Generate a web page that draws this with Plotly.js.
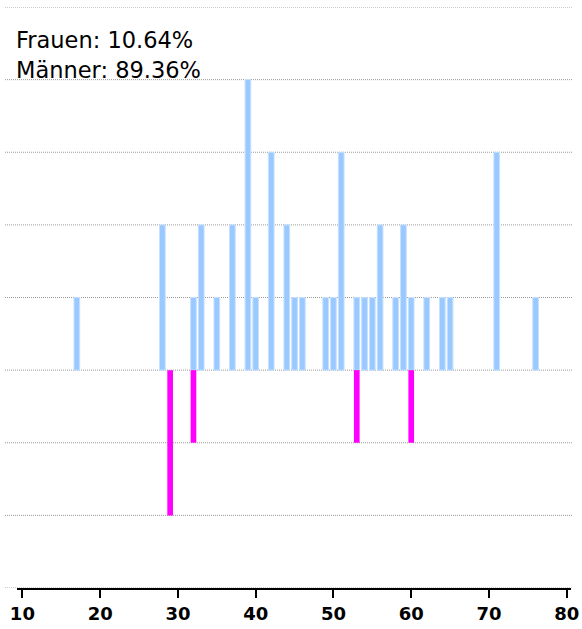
<!DOCTYPE html>
<html>
<head>
<meta charset="utf-8">
<script src="https://cdn.plot.ly/plotly-3.0.1.min.js"></script>
<style>html,body{margin:0;padding:0;background:#fff;}#chart{width:582px;height:629px;}</style>
</head>
<body>
<div id="chart"></div>
<script>
// Age distribution: men (up), women (down)
const menAges   = [17, 28, 32, 33, 35, 37, 39, 40, 42, 44, 45, 46, 49, 50, 51, 53, 54, 55, 56, 58, 59, 60, 62, 64, 65, 71, 76];
const menCounts = [ 1,  2,  1,  2,  1,  2,  4,  1,  3,  2,  1,  1,  1,  1,  3,  1,  1,  1,  2,  1,  2,  1,  1,  1,  1,  3,  1];
const womenAges   = [29, 32, 53, 60];
const womenCounts = [ 2,  1,  1,  1];
const xTicks = [10, 20, 30, 40, 50, 60, 70, 80];
const gridLevels = [-3, -2, -1, 0, 1, 2, 3, 4, 5];
const labelWomen = 'Frauen';
const labelMen = 'Männer';

const sum = a => a.reduce((s, v) => s + v, 0);
const totalW = sum(womenCounts), totalM = sum(menCounts), total = totalW + totalM;
const pctW = (100 * totalW / total).toFixed(2);
const pctM = (100 * totalM / total).toFixed(2);

const traces = [
  {type: 'bar', x: menAges, y: menCounts, width: 0.73, name: labelMen,
   marker: {color: '#99c9ff', line: {color: '#c6e0ff', width: 1}}, hoverinfo: 'none'},
  {type: 'bar', x: womenAges, y: womenCounts.map(v => -v), width: 0.73, name: labelWomen,
   marker: {color: '#ff00ff', line: {width: 0}}, hoverinfo: 'none'}
];

const plotW = 582 - 17 - 11;
const shapes = gridLevels.map(v => ({
  type: 'line', xref: 'paper', yref: 'y', x0: -12 / plotW, x1: 1 + 2 / plotW, y0: v, y1: v,
  line: {color: '#9a9a9a', width: 1, dash: '1px,1px'}, layer: 'below'
}));

const layout = {
  width: 582, height: 629,
  margin: {l: 17, r: 11, t: 7, b: 41},
  paper_bgcolor: '#fff', plot_bgcolor: '#fff',
  barmode: 'relative',
  showlegend: false,
  font: {family: 'DejaVu Sans', color: '#000'},
  xaxis: {
    range: [9.305, 80.55], tickvals: xTicks, ticktext: xTicks.map(v => '<b>' + v + '</b>'),
    showgrid: false, zeroline: false,
    showline: true, linecolor: '#000', linewidth: 2,
    ticks: 'outside', ticklen: 8, tickwidth: 2, tickcolor: '#000',
    tickfont: {family: 'DejaVu Sans', size: 18, color: '#000'},
    fixedrange: true
  },
  yaxis: {
    range: [-3, 5], showgrid: false, zeroline: false, showticklabels: false,
    showline: false, ticks: '', fixedrange: true
  },
  shapes: shapes,
  annotations: [
    {xref: 'paper', yref: 'paper', x: -3 / plotW, y: (588 - 40.5) / 581, xanchor: 'left', yanchor: 'middle',
     showarrow: false, text: labelWomen + ': ' + pctW + '%',
     font: {family: 'DejaVu Sans', size: 22.5, color: '#000'}},
    {xref: 'paper', yref: 'paper', x: -3 / plotW, y: (588 - 70.5) / 581, xanchor: 'left', yanchor: 'middle',
     showarrow: false, text: labelMen + ': ' + pctM + '%',
     font: {family: 'DejaVu Sans', size: 22.5, color: '#000'}}
  ]
};

Plotly.newPlot('chart', traces, layout, {displayModeBar: false, staticPlot: true});
</script>
</body>
</html>
